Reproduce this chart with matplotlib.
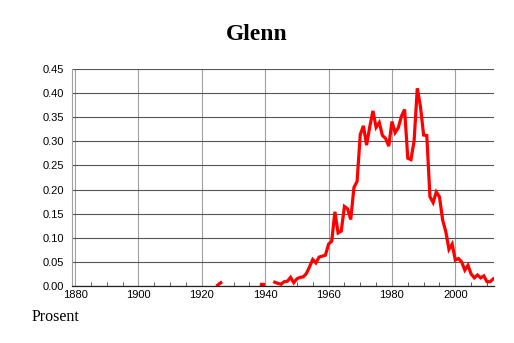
import numpy as np
import matplotlib.pyplot as plt
from matplotlib.ticker import MultipleLocator

# --- Dati ---
years_early = [1925, 1926]
vals_early = [0.002, 0.007]

years_dot = [1939]
vals_dot = [0.002]

years = list(range(1943, 2013))
vals = [0.008, 0.0055, 0.004, 0.009, 0.010, 0.018, 0.007, 0.015, 0.018, 0.019,
        0.026, 0.040, 0.055, 0.048, 0.060, 0.062, 0.064, 0.087, 0.093, 0.154,
        0.110, 0.114, 0.165, 0.160, 0.138, 0.204, 0.217, 0.314, 0.332, 0.292,
        0.330, 0.363, 0.329, 0.339, 0.312, 0.306, 0.290, 0.341, 0.318, 0.328,
        0.352, 0.366, 0.265, 0.262, 0.301, 0.410, 0.372, 0.313, 0.312, 0.185,
        0.173, 0.195, 0.185, 0.137, 0.113, 0.076, 0.087, 0.054, 0.057, 0.050,
        0.033, 0.043, 0.025, 0.017, 0.023, 0.017, 0.021, 0.009, 0.009, 0.015]

x_ticks = [1880, 1900, 1920, 1940, 1960, 1980, 2000]
y_ticks = [0.0, 0.05, 0.10, 0.15, 0.20, 0.25, 0.30, 0.35, 0.40, 0.45]

# --- Grafico ---
fig = plt.figure(figsize=(5.14, 3.43), dpi=100)
ax = fig.add_axes([0.140, 0.166, 0.821, 0.633])

ax.plot(years, vals, color='#ff0000', linewidth=2.3, solid_joinstyle='miter')
ax.plot(years_early, vals_early, color='#ff0000', linewidth=2.3)
ax.plot(years_dot, vals_dot, 's', color='#ff0000', markersize=2.5)

ax.set_xlim(1879, 2012.2)
ax.set_ylim(0, 0.45)
ax.set_xticks(x_ticks)
ax.set_yticks(y_ticks)
ax.set_yticklabels([f'{v:.2f}' for v in y_ticks])
ax.xaxis.set_minor_locator(MultipleLocator(5))

for lab in ax.get_xticklabels() + ax.get_yticklabels():
    lab.set_fontfamily('Liberation Sans')
    lab.set_fontsize(8)

ax.tick_params(axis='x', which='major', direction='in', length=0, pad=3)
ax.tick_params(axis='x', which='minor', direction='in', length=3, color='#444444')
ax.tick_params(axis='y', length=0, pad=6)

ax.grid(axis='x', which='major', color='#a0a0a0', linewidth=0.8)
ax.grid(axis='y', color='#555555', linewidth=0.8)
ax.set_axisbelow(True)

ax.spines['top'].set_visible(False)
ax.spines['right'].set_visible(False)
ax.spines['left'].set_color('#a0a0a0')
ax.spines['left'].set_linewidth(0.8)
ax.spines['bottom'].set_color('#222222')
ax.spines['bottom'].set_linewidth(0.9)

fig.text(0.5, 0.90, 'Glenn', ha='center', va='center',
         fontfamily='Liberation Serif', fontweight='bold', fontsize=17)
fig.text(0.062, 0.075, 'Prosent', ha='left', va='center',
         fontfamily='Liberation Serif', fontsize=11.5)

plt.savefig('out.png', dpi=100)
